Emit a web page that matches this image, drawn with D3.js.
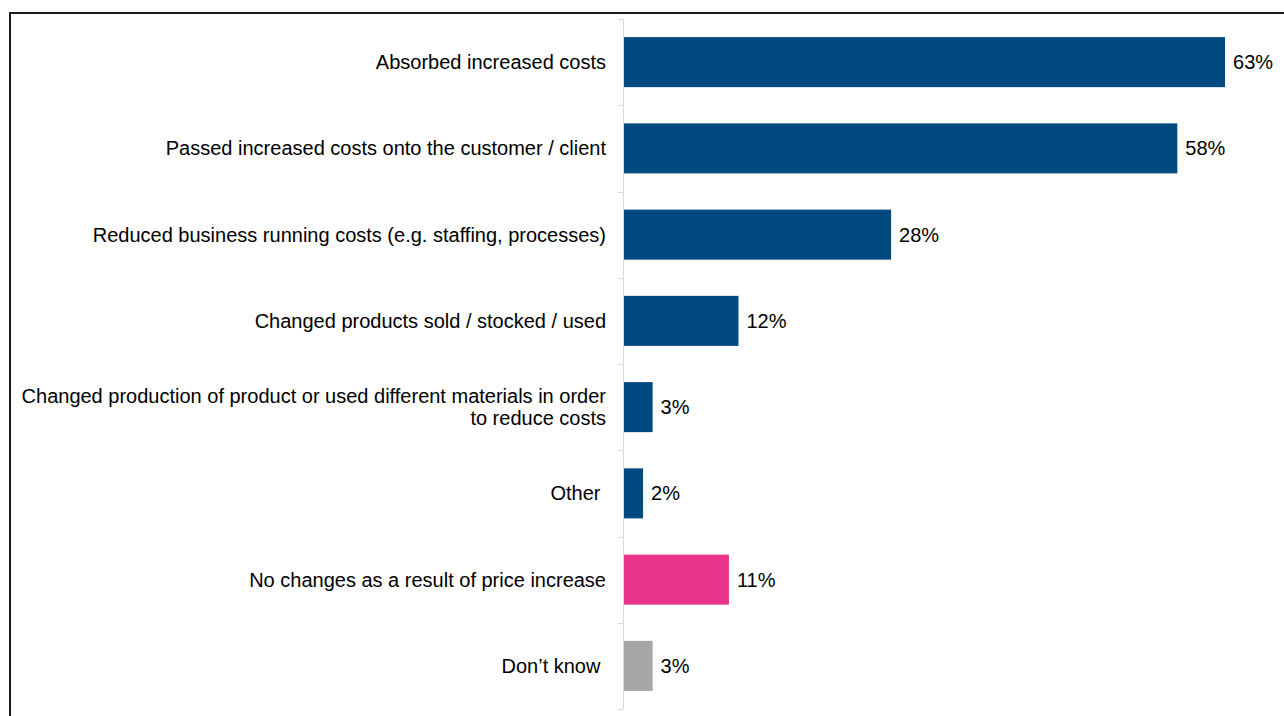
<!DOCTYPE html>
<html>
<head>
<meta charset="utf-8">
<script src="https://cdn.jsdelivr.net/npm/d3@7"></script>
<style>
  html, body { margin: 0; padding: 0; background: #ffffff; }
  svg { display: block; }
  text { font-family: "Liberation Sans", Arial, sans-serif; fill: #000000; }
</style>
</head>
<body>
<svg id="chart" width="1284" height="716"></svg>
<script>
// Responses to increased costs (% of businesses)
const categories = [
  ["Absorbed increased costs"],
  ["Passed increased costs onto the customer / client"],
  ["Reduced business running costs (e.g. staffing, processes)"],
  ["Changed products sold / stocked / used"],
  ["Changed production of product or used different materials in order", "to reduce costs"],
  ["Other "],
  ["No changes as a result of price increase"],
  ["Don\u2019t know "]
];
const values = [63, 58, 28, 12, 3, 2, 11, 3];
const groups = ["action", "action", "action", "action", "action", "action", "none", "dk"];
const valueLabels = ["63%", "58%", "28%", "12%", "3%", "2%", "11%", "3%"];

const colours = { action: "#004A7F", none: "#E8338A", dk: "#A6A6A6" };

const svg = d3.select("#chart");
const W = 1284, H = 716;

// outer frame
svg.append("rect")
  .attr("x", 10).attr("y", 13)
  .attr("width", W + 20).attr("height", H + 20)
  .attr("fill", "none")
  .attr("stroke", "#1a1a1a")
  .attr("stroke-width", 2);

const idx = d3.range(categories.length);
const y = d3.scaleBand()
  .domain(idx)
  .range([19, 709])
  .paddingInner(0.42)
  .paddingOuter(0.21);

const x = d3.scaleLinear()
  .domain([0, 70])
  .range([624, 1291.8]);

const step = y.step();
const gap = step - y.bandwidth();

// category axis line and boundary ticks
const axisX = 623.5;
svg.append("line")
  .attr("x1", axisX).attr("x2", axisX)
  .attr("y1", 19).attr("y2", 709)
  .attr("stroke", "#d9d9d9").attr("stroke-width", 1);

const bounds = idx.map(i => y(i) - gap / 2).concat([y(idx.length - 1) + y.bandwidth() + gap / 2]);
svg.selectAll("line.tick")
  .data(bounds)
  .join("line")
  .attr("class", "tick")
  .attr("x1", 618).attr("x2", axisX)
  .attr("y1", d => Math.round(d) + 0.5).attr("y2", d => Math.round(d) + 0.5)
  .attr("stroke", "#d9d9d9").attr("stroke-width", 1);

// bars
svg.selectAll("rect.bar")
  .data(idx)
  .join("rect")
  .attr("class", "bar")
  .attr("x", x(0))
  .attr("y", i => y(i))
  .attr("width", i => x(values[i]) - x(0))
  .attr("height", y.bandwidth())
  .attr("fill", i => colours[groups[i]]);

// value labels
svg.selectAll("text.val")
  .data(idx)
  .join("text")
  .attr("class", "val")
  .attr("x", i => x(values[i]) + 8)
  .attr("y", i => y(i) + y.bandwidth() / 2)
  .attr("dy", "0.35em")
  .attr("font-size", 20)
  .text(i => valueLabels[i]);

// category labels (right aligned, multi-line where needed)
const lineH = 22;
const labels = svg.selectAll("text.cat")
  .data(idx)
  .join("text")
  .attr("class", "cat")
  .attr("text-anchor", "end")
  .attr("font-size", 20)
  .style("white-space", "pre")
  .attr("y", i => y(i) + y.bandwidth() / 2);

labels.each(function (i) {
  const lines = categories[i];
  const t = d3.select(this);
  const offset = -(lines.length - 1) * lineH / 2;
  lines.forEach((ln, k) => {
    t.append("tspan")
      .attr("x", 606)
      .attr("dy", k === 0 ? (offset + 7) + "px" : lineH + "px")
      .text(ln);
  });
});
</script>
</body>
</html>
